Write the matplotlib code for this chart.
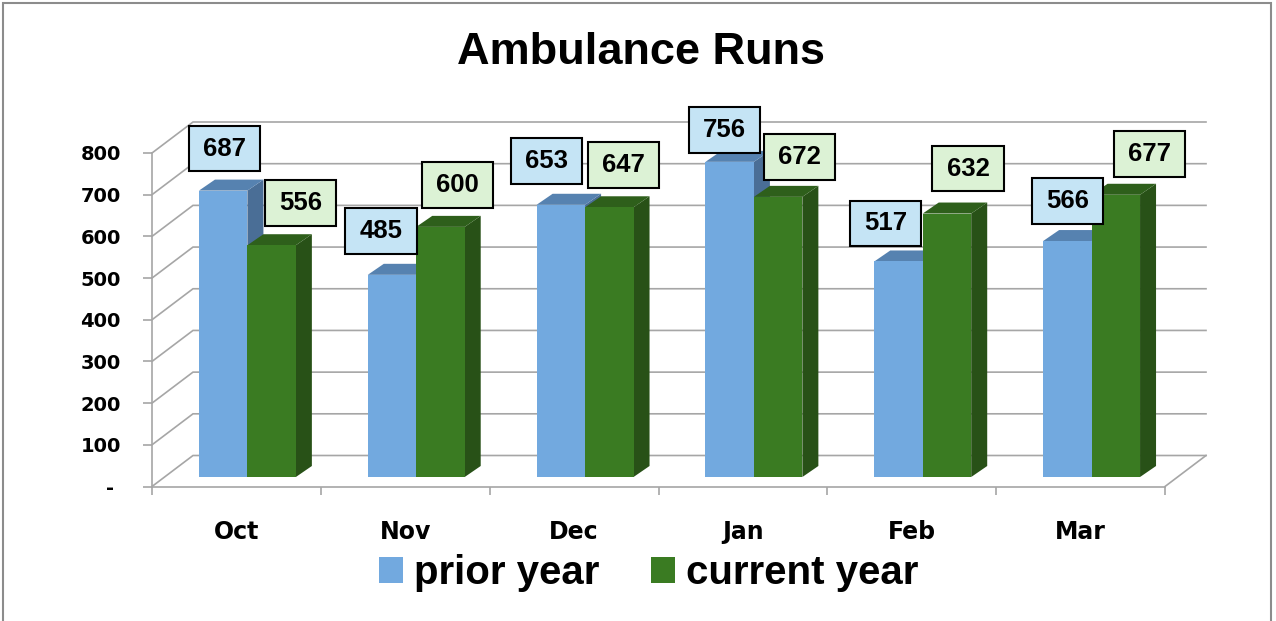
import numpy as np
import matplotlib
matplotlib.use("Agg")
import matplotlib.pyplot as plt
from matplotlib.patches import Patch, Rectangle
from matplotlib.path import Path

months = ["Oct", "Nov", "Dec", "Jan", "Feb", "Mar"]
prior_year = [687, 485, 653, 756, 517, 566]
current_year = [556, 600, 647, 672, 632, 677]
y_ticks = [0, 100, 200, 300, 400, 500, 600, 700, 800]
y_tick_labels = ["- ", "100", "200", "300", "400", "500", "600", "700", "800"]

# manual nudges of the data label boxes (pixels, relative to top of bar face)
prior_nudge = [(1, 42), (-11, 44), (-14, 44), (-5, 32), (-13, 38), (0, 40)]
current_nudge = [(29, 42), (17, 42), (14, 42), (21, 40), (21, 45), (34, 41)]

blue = "#72A9DF"
blue_top = "#5682B0"
blue_side = "#4A6E96"
green = "#3A7B22"
green_top = "#2E5F1B"
green_side = "#285117"
grid_c = "#A6A6A6"

W, H = 1276, 621
fig = plt.figure(figsize=(W / 100, H / 100), dpi=100)

# axes placed so category/value scales line up with the front plane
px_x = (1165 - 152) / 6.0
px_y = (486.5 - 153) / 800.0
left = 152 / W
right = (1165 + 0.5 * px_x) / W
bottom = 1 - 486.5 / H
top = 1 - (486.5 - 900 * px_y) / H
ax = fig.add_axes([left, bottom, right - left, top - bottom])
ax.set_xlim(-0.5, 6.0)
ax.set_ylim(0, 900)
ax.patch.set_visible(False)

# 3d offsets in data units
wall_dx, wall_dy = 41 / px_x, 31 / px_y
front_dx, front_dy = 11 / px_x, 9.5 / px_y
bar_dx, bar_dy = 16 / px_x, 11 / px_y
w = 0.287

x = np.arange(len(months))

# walls / gridlines
for v in y_ticks:
    ax.plot([-0.5, -0.5 + wall_dx, 5.5 + wall_dx], [v, v + wall_dy, v + wall_dy],
            color=grid_c, lw=1.2, zorder=1, clip_on=False, solid_joinstyle="miter")
ax.plot([5.5, 5.5 + wall_dx], [0, wall_dy], color=grid_c, lw=1.2, zorder=1, clip_on=False)


def draw_bars(xl, vals, c_front, c_top, c_side, z):
    for xi, v in zip(xl, vals):
        xr = xi + w
        t = front_dy + v
        ax.fill([xr, xr + bar_dx, xr + bar_dx, xr],
                [front_dy, front_dy + bar_dy, t + bar_dy, t],
                color=c_side, lw=0, zorder=z)
        ax.fill([xi, xi + bar_dx, xr + bar_dx, xr],
                [t, t + bar_dy, t + bar_dy, t],
                color=c_top, lw=0, zorder=z)
    ax.bar(xl, vals, width=w, bottom=front_dy, align="edge", color=c_front,
           lw=0, zorder=z + 0.1)


prior_x = x - w + front_dx
current_x = x + front_dx
draw_bars(prior_x, prior_year, blue, blue_top, blue_side, 2)
draw_bars(current_x, current_year, green, green_top, green_side, 3)


def label_box(x0, y0, width, height, mutation_size):
    px, py = 0.55 * mutation_size, 0.42 * mutation_size
    return Path([(x0 - px, y0 - py), (x0 + width + px, y0 - py),
                 (x0 + width + px, y0 + height + py), (x0 - px, y0 + height + py),
                 (x0 - px, y0 - py)], closed=True)


for xs, vals, nudges, fc in [(prior_x, prior_year, prior_nudge, "#C5E4F5"),
                             (current_x, current_year, current_nudge, "#DCF2D5")]:
    for xi, v, (ndx, ndy) in zip(xs, vals, nudges):
        ax.annotate(str(v), xy=(xi + w / 2, front_dy + v), xytext=(ndx, ndy),
                    textcoords="offset pixels", ha="center", va="center",
                    fontsize=18.5, fontweight="bold", family="Liberation Sans",
                    bbox=dict(boxstyle=label_box, fc=fc, ec="black", lw=1.5),
                    zorder=6, annotation_clip=False)

# axes lines and ticks
for s in ["top", "right"]:
    ax.spines[s].set_visible(False)
ax.spines["left"].set_position(("data", -0.5))
ax.spines["left"].set_bounds(0, 800)
ax.spines["bottom"].set_bounds(-0.5, 5.5)
for s in ["left", "bottom"]:
    ax.spines[s].set_color(grid_c)
    ax.spines[s].set_linewidth(1.2)

ax.set_yticks(y_ticks)
ax.set_yticklabels(y_tick_labels)
ax.tick_params(axis="y", length=6.5, width=1.2, color=grid_c, pad=16,
               labelsize=14)
for t in ax.get_yticklabels():
    t.set_fontweight("bold")

ax.set_xticks(np.arange(-0.5, 6.0, 1.0))
ax.set_xticklabels([])
ax.set_xticks(x, minor=True)
ax.set_xticklabels(months, minor=True)
ax.tick_params(axis="x", which="major", length=6, width=1.2, color=grid_c)
ax.tick_params(axis="x", which="minor", length=0, pad=24, labelsize=17)
for t in ax.get_xticklabels(minor=True):
    t.set_fontweight("bold")

fig.text(641 / W, 1 - 52 / H, "Ambulance Runs", ha="center", va="center",
         fontsize=32.5, fontweight="bold", family="Liberation Sans")

fig.legend(handles=[Patch(fc=blue, ec="none"), Patch(fc=green, ec="none")],
           labels=["prior year", "current year"], loc="center",
           bbox_to_anchor=(648.5 / W, 1 - 573 / H), ncol=2, frameon=False,
           prop=dict(family="Liberation Sans", weight="bold", size=29),
           handlelength=0.6, handleheight=0.6, handletextpad=0.27,
           columnspacing=1.29, borderpad=0)

# outer chart border
fig.add_artist(Rectangle((3 / W, -0.01), (1271 - 3) / W, 1.01 - 3 / H,
                         transform=fig.transFigure, fill=False, ec="#8C8C8C", lw=1.5))

fig.savefig("out.png", dpi=100)
